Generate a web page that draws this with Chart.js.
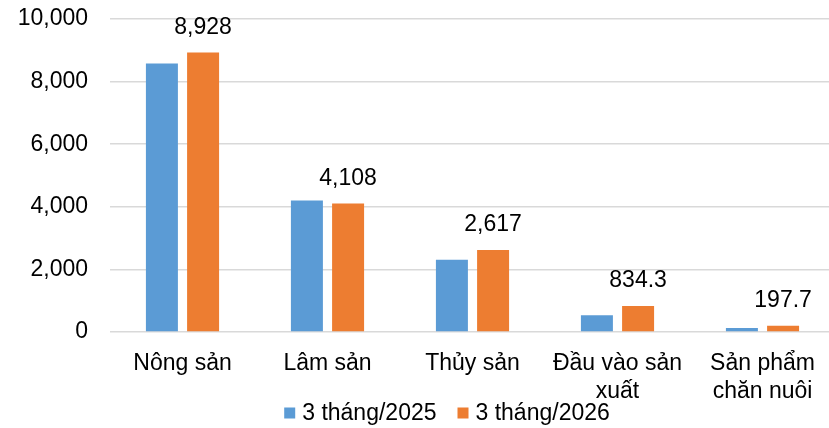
<!DOCTYPE html>
<html>
<head>
<meta charset="utf-8">
<script src="https://cdn.jsdelivr.net/npm/chart.js@4"></script>
<style>
  html, body { margin: 0; padding: 0; background: #fff; overflow: hidden; }
  canvas { display: block; }
</style>
</head>
<body>
<canvas id="chart" width="835" height="428"></canvas>
<script>
// data
const categories = ['Nông sản', 'Lâm sản', 'Thủy sản', ['Đầu vào sản', 'xuất'], ['Sản phẩm', 'chăn nuôi']];
const seriesNames = ['3 tháng/2025', '3 tháng/2026'];
const values2025 = [8580, 4200, 2310, 535, 125];
const values2026 = [8928, 4108, 2617, 834.3, 197.7];
const yTicks = [0, 2000, 4000, 6000, 8000, 10000];

const FONT = '"Liberation Sans", Arial, sans-serif';
const colors = ['#5B9BD5', '#ED7D31'];

function fmt(v) {
  return v >= 1000 ? v.toLocaleString('en-US') : v.toFixed(1);
}

// value labels above the 2026 bars
const valueLabels = {
  id: 'valueLabels',
  afterDatasetsDraw(chart) {
    const ctx = chart.ctx;
    const meta = chart.getDatasetMeta(1);
    ctx.save();
    ctx.font = '23px ' + FONT;
    ctx.fillStyle = '#000';
    ctx.textAlign = 'center';
    ctx.textBaseline = 'middle';
    meta.data.forEach((bar, i) => {
      ctx.fillText(fmt(values2026[i]), bar.x, bar.y - 25);
    });
    ctx.restore();
  }
};

// legend drawn by hand so it can sit where the reference has it
const bottomLegend = {
  id: 'bottomLegend',
  afterDraw(chart) {
    const ctx = chart.ctx;
    ctx.save();
    ctx.font = '23px ' + FONT;
    ctx.textBaseline = 'middle';
    const box = 11, gap = 7, between = 21;
    const widths = seriesNames.map(n => ctx.measureText(n).width);
    const total = widths.reduce((a, w) => a + box + gap + w, 0) + between;
    let x = 447 - total / 2;
    const y = 413;
    seriesNames.forEach((name, i) => {
      ctx.fillStyle = colors[i];
      ctx.fillRect(x, y - box / 2, box, box);
      x += box + gap;
      ctx.fillStyle = '#000';
      ctx.fillText(name, x, y + 1);
      x += widths[i] + between;
    });
    ctx.restore();
  }
};

new Chart(document.getElementById('chart'), {
  type: 'bar',
  data: {
    labels: categories,
    datasets: [
      { label: seriesNames[0], data: values2025, backgroundColor: colors[0] },
      { label: seriesNames[1], data: values2026, backgroundColor: colors[1] }
    ]
  },
  options: {
    responsive: false,
    animation: false,
    layout: { padding: { top: 19, right: 0, bottom: 16, left: 0 } },
    datasets: {
      bar: { categoryPercentage: 0.568, barPercentage: 0.777 }
    },
    plugins: {
      legend: { display: false },
      tooltip: { enabled: false }
    },
    scales: {
      x: {
        grid: { display: false },
        border: { display: false },
        ticks: {
          color: '#000',
          font: { family: FONT, size: 23, lineHeight: 1.2 },
          padding: 10,
          maxRotation: 0,
          autoSkip: false
        },
        afterFit(scale) { scale.height = 80; }
      },
      y: {
        min: 0,
        max: 10000,
        afterBuildTicks(scale) { scale.ticks = yTicks.map(v => ({ value: v })); },
        grid: { color: '#d9d9d9', lineWidth: 1.5, drawTicks: false },
        border: { display: false },
        ticks: {
          color: '#000',
          font: { family: FONT, size: 23 },
          padding: 22,
          callback: v => v.toLocaleString('en-US')
        },
        afterFit(scale) {
          scale.width = 110;
          scale.paddingTop = 0;
          scale.paddingBottom = 0;
        }
      }
    }
  },
  plugins: [valueLabels, bottomLegend]
});
</script>
</body>
</html>
